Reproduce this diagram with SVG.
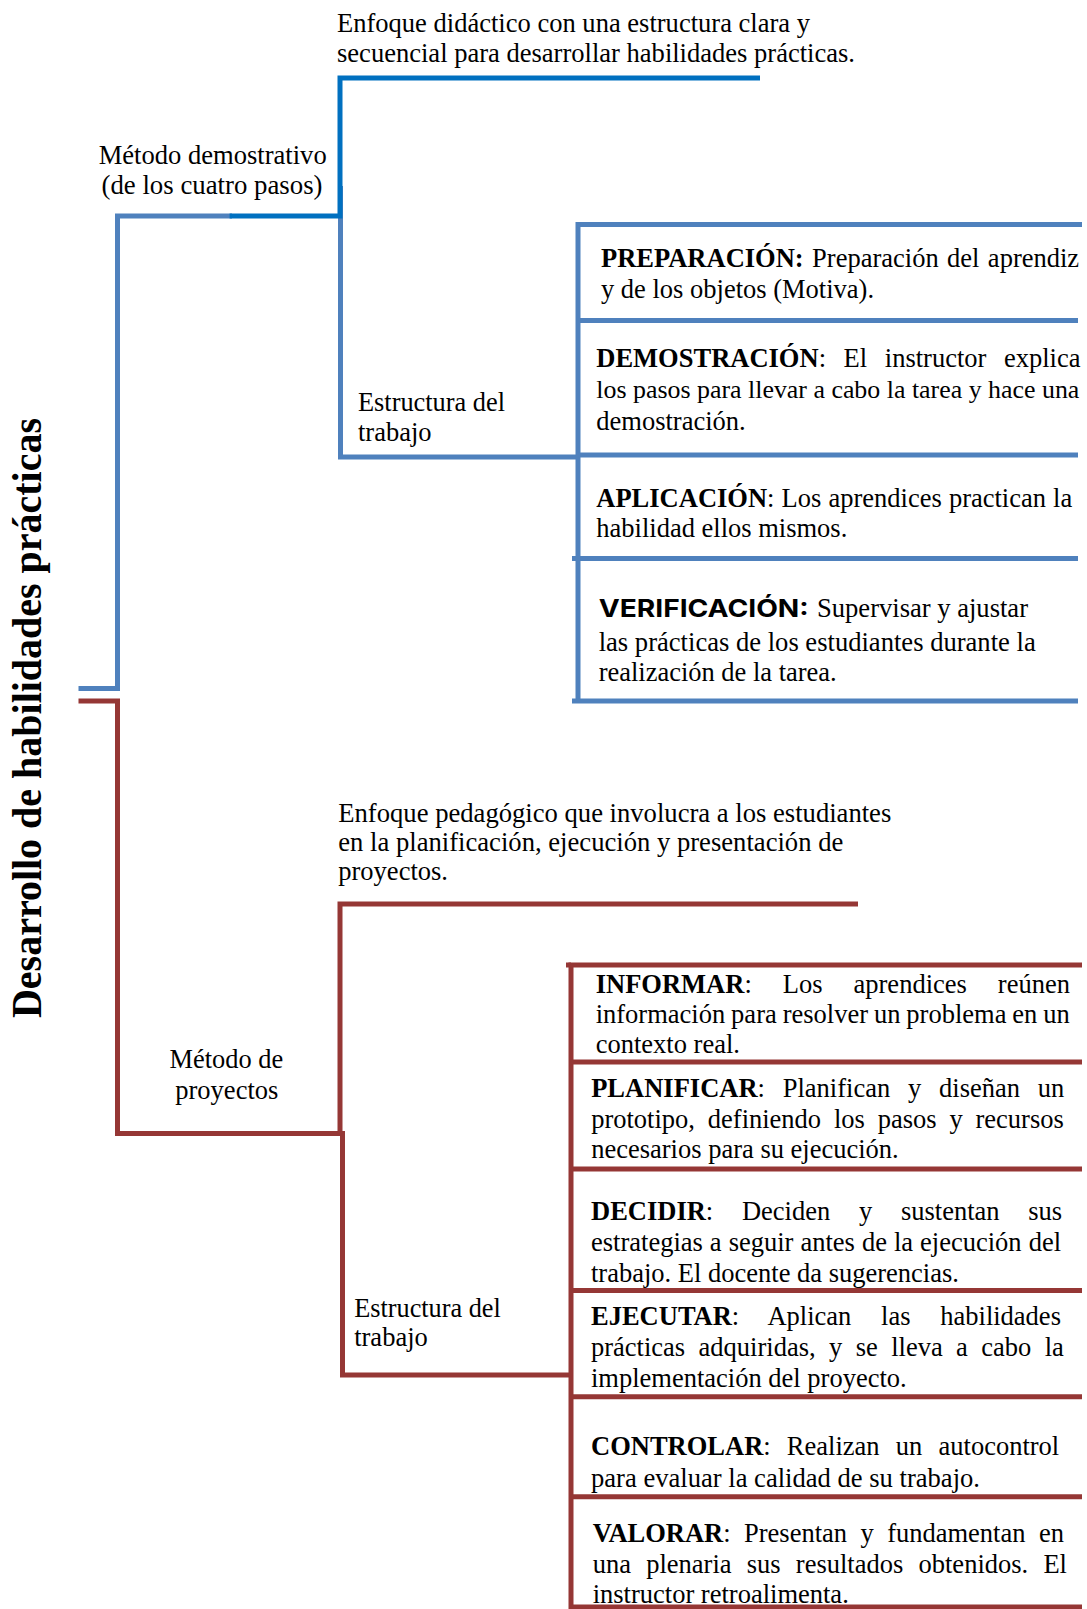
<svg xmlns="http://www.w3.org/2000/svg" width="1087" height="1609" viewBox="0 0 1087 1609">
<style>
.t{font-family:"Liberation Serif","Times New Roman",serif;font-size:26.5px;fill:#000}
.b{font-weight:bold}
.sans{font-family:"Inter","Liberation Sans",sans-serif;font-weight:700;font-size:24px}
.title{font-family:"Liberation Serif","Times New Roman",serif;font-weight:bold;font-size:42px;fill:#000}
.lb{fill:none;stroke:#4F81BD;stroke-width:5;stroke-linejoin:miter}
.db{fill:none;stroke:#0070C0;stroke-width:5;stroke-linejoin:miter}
.rd{fill:none;stroke:#953735;stroke-width:5;stroke-linejoin:miter}
</style>
<rect width="1087" height="1609" fill="#fff"/>
<g id="connectors">
  <polyline class="lb" points="78.5,688.5 117.5,688.5 117.5,216 232,216"/>
  <polyline class="lb" points="340.5,186 340.5,457 578,457"/>
  <polyline class="db" points="229.6,216 340,216 340,78 760,78"/>
  <polyline class="lb" points="1082,224.5 578,224.5 578,703"/>
  <line class="lb" x1="578" y1="320.5" x2="1078" y2="320.5"/>
  <line class="lb" x1="578" y1="455" x2="1078" y2="455"/>
  <line class="lb" x1="572" y1="558.5" x2="1078" y2="558.5"/>
  <line class="lb" x1="572" y1="701" x2="1078" y2="701"/>
  <polyline class="rd" points="78.5,701 117.5,701 117.5,1133.5 342,1133.5"/>
  <polyline class="rd" points="340,1136 340,904 858,904"/>
  <polyline class="rd" points="342.5,1131 342.5,1375 571,1375"/>
  <polyline class="rd" points="1082,965 571,965 571,1609"/>
  <line class="rd" x1="566" y1="965" x2="571" y2="965"/>
  <line class="rd" x1="571" y1="1062" x2="1082" y2="1062"/>
  <line class="rd" x1="571" y1="1169" x2="1082" y2="1169"/>
  <line class="rd" x1="571" y1="1290.5" x2="1082" y2="1290.5"/>
  <line class="rd" x1="571" y1="1396.7" x2="1082" y2="1396.7"/>
  <line class="rd" x1="571" y1="1496.7" x2="1082" y2="1496.7"/>
  <line class="rd" x1="571" y1="1607" x2="1082" y2="1607"/>
</g>
<g id="title">
  <text class="title" transform="translate(40.5,718) rotate(-90)" text-anchor="middle" textLength="600" lengthAdjust="spacingAndGlyphs">Desarrollo de habilidades prácticas</text>
</g>
<g id="demo-desc">
  <text class="t" x="337" y="32" textLength="473" lengthAdjust="spacingAndGlyphs">Enfoque didáctico con una estructura clara y</text>
  <text class="t" x="337" y="62" textLength="518" lengthAdjust="spacingAndGlyphs">secuencial para desarrollar habilidades prácticas.</text>
</g>
<g id="metodo-demostrativo">
  <text class="t" x="98.7" y="164" textLength="228" lengthAdjust="spacingAndGlyphs">Método demostrativo</text>
  <text class="t" x="101.5" y="194" textLength="221" lengthAdjust="spacingAndGlyphs">(de los cuatro pasos)</text>
</g>
<g id="estructura-1">
  <text class="t" x="358" y="411" textLength="147" lengthAdjust="spacingAndGlyphs">Estructura del</text>
  <text class="t" x="358" y="441">trabajo</text>
</g>
<g id="preparacion">
  <text class="t" x="601" y="267" style="word-spacing:1.8px"><tspan class="b">PREPARACIÓN:</tspan> Preparación del aprendiz</text>
  <text class="t" x="601" y="298" textLength="273" lengthAdjust="spacingAndGlyphs">y de los objetos (Motiva).</text>
</g>
<g id="demostracion">
  <text class="t" x="596.3" y="367" style="word-spacing:11px"><tspan class="b">DEMOSTRACIÓN</tspan>: El instructor explica</text>
  <text class="t" x="596.3" y="398" style="font-size:25.9px">los pasos para llevar a cabo la tarea y hace una</text>
  <text class="t" x="596.3" y="430">demostración.</text>
</g>
<g id="aplicacion">
  <text class="t" x="596.3" y="507" style="word-spacing:0.5px"><tspan class="b">APLICACIÓN</tspan>: Los aprendices practican la</text>
  <text class="t" x="596.3" y="537">habilidad ellos mismos.</text>
</g>
<g id="verificacion">
  <text class="sans" x="598.7" y="617" textLength="210" lengthAdjust="spacingAndGlyphs">VERIFICACIÓN:</text>
  <text class="t" x="817" y="617" textLength="211" lengthAdjust="spacingAndGlyphs">Supervisar y ajustar</text>
  <text class="t" x="598.7" y="651" textLength="437" lengthAdjust="spacingAndGlyphs">las prácticas de los estudiantes durante la</text>
  <text class="t" x="598.7" y="681" textLength="238" lengthAdjust="spacingAndGlyphs">realización de la tarea.</text>
</g>
<g id="proyectos-desc">
  <text class="t" x="338.3" y="822" textLength="553" lengthAdjust="spacingAndGlyphs">Enfoque pedagógico que involucra a los estudiantes</text>
  <text class="t" x="338.3" y="851" textLength="505" lengthAdjust="spacingAndGlyphs">en la planificación, ejecución y presentación de</text>
  <text class="t" x="338.3" y="880">proyectos.</text>
</g>
<g id="metodo-proyectos">
  <text class="t" x="169.5" y="1068" textLength="113.7" lengthAdjust="spacingAndGlyphs">Método de</text>
  <text class="t" x="175.3" y="1099">proyectos</text>
</g>
<g id="estructura-2">
  <text class="t" x="354.2" y="1317" textLength="146.6" lengthAdjust="spacingAndGlyphs">Estructura del</text>
  <text class="t" x="354.2" y="1346">trabajo</text>
</g>
<g id="informar">
  <text class="t" x="595.7" y="993" style="word-spacing:24.4px"><tspan class="b">INFORMAR</tspan>: Los aprendices reúnen</text>
  <text class="t" x="595.7" y="1023" style="word-spacing:-0.7px">información para resolver un problema en un</text>
  <text class="t" x="595.7" y="1053">contexto real.</text>
</g>
<g id="planificar">
  <text class="t" x="591.2" y="1097" style="word-spacing:11.2px"><tspan class="b">PLANIFICAR</tspan>: Planifican y diseñan un</text>
  <text class="t" x="591.2" y="1128" style="word-spacing:6.2px">prototipo, definiendo los pasos y recursos</text>
  <text class="t" x="591.2" y="1158">necesarios para su ejecución.</text>
</g>
<g id="decidir">
  <text class="t" x="591" y="1220" style="word-spacing:22.1px"><tspan class="b">DECIDIR</tspan>: Deciden y sustentan sus</text>
  <text class="t" x="591" y="1251" style="word-spacing:0.4px">estrategias a seguir antes de la ejecución del</text>
  <text class="t" x="591" y="1282">trabajo. El docente da sugerencias.</text>
</g>
<g id="ejecutar">
  <text class="t" x="591" y="1325" style="word-spacing:23.1px"><tspan class="b">EJECUTAR</tspan>: Aplican las habilidades</text>
  <text class="t" x="591" y="1356" style="word-spacing:6.8px">prácticas adquiridas, y se lleva a cabo la</text>
  <text class="t" x="591" y="1387">implementación del proyecto.</text>
</g>
<g id="controlar">
  <text class="t" x="591" y="1455" style="word-spacing:9.6px"><tspan class="b">CONTROLAR</tspan>: Realizan un autocontrol</text>
  <text class="t" x="591" y="1487" textLength="389" lengthAdjust="spacingAndGlyphs">para evaluar la calidad de su trabajo.</text>
</g>
<g id="valorar">
  <text class="t" x="592.7" y="1542" style="word-spacing:6.8px"><tspan class="b">VALORAR</tspan>: Presentan y fundamentan en</text>
  <text class="t" x="592.7" y="1573" style="word-spacing:8.6px">una plenaria sus resultados obtenidos. El</text>
  <text class="t" x="592.7" y="1603">instructor retroalimenta.</text>
</g>
</svg>
